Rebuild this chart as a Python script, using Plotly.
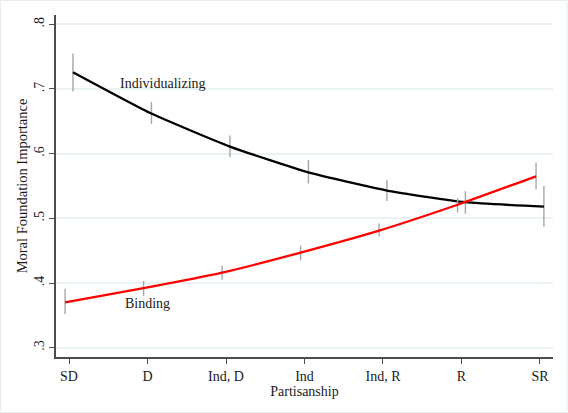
import plotly.graph_objects as go

categories = ["SD", "D", "Ind, D", "Ind", "Ind, R", "R", "SR"]

indiv_mean = [0.726, 0.662, 0.611, 0.571, 0.543, 0.525, 0.518]
indiv_hi   = [0.755, 0.680, 0.628, 0.590, 0.559, 0.542, 0.550]
indiv_lo   = [0.696, 0.646, 0.595, 0.554, 0.527, 0.507, 0.487]

bind_mean = [0.370, 0.392, 0.416, 0.447, 0.481, 0.521, 0.565]
bind_hi   = [0.391, 0.403, 0.427, 0.458, 0.492, 0.531, 0.586]
bind_lo   = [0.352, 0.380, 0.405, 0.435, 0.472, 0.509, 0.545]

y_ticks = [0.3, 0.4, 0.5, 0.6, 0.7, 0.8]
y_ticklabels = [".3", ".4", ".5", ".6", ".7", ".8"]

FONT = "Liberation Serif"
OFF = 0.05

idx = list(range(len(categories)))
x_ind = [i + OFF for i in idx]
x_bin = [i - OFF for i in idx]

def err(mean, hi, lo):
    return dict(type="data", symmetric=False,
                array=[h - m for h, m in zip(hi, mean)],
                arrayminus=[m - l for m, l in zip(mean, lo)],
                color="#a6a6a6", thickness=1.4, width=0)

fig = go.Figure()
fig.add_trace(go.Scatter(x=x_ind, y=indiv_mean, mode="lines",
                         line=dict(color="black", width=2.3, shape="spline", smoothing=0.5),
                         error_y=err(indiv_mean, indiv_hi, indiv_lo),
                         name="Individualizing", showlegend=False, hoverinfo="skip"))
fig.add_trace(go.Scatter(x=x_bin, y=bind_mean, mode="lines",
                         line=dict(color="#ff0000", width=2.3, shape="spline", smoothing=0.5),
                         error_y=err(bind_mean, bind_hi, bind_lo),
                         name="Binding", showlegend=False, hoverinfo="skip"))

fig.add_annotation(x=1.2, y=0.709, text="Individualizing", showarrow=False,
                   font=dict(family=FONT, size=14, color="#1a1a1a"))
fig.add_annotation(x=1.0, y=0.369, text="Binding", showarrow=False,
                   font=dict(family=FONT, size=14, color="#1a1a1a"))

# faint outer frame
fig.add_shape(type="rect", xref="paper", yref="paper",
              x0=-55.5/497, x1=(567-56)/497, y0=-55.5/342, y1=(357-0.5)/342,
              line=dict(color="#e8eeee", width=1), layer="below")

fig.update_layout(
    width=568, height=413,
    margin=dict(l=56, r=15, t=15, b=56),
    paper_bgcolor="white", plot_bgcolor="white",
    font=dict(family=FONT, size=13, color="#1a1a1a"),
    xaxis=dict(range=[-0.166, 6.166], tickvals=idx, ticktext=categories,
               automargin=False,
               showgrid=False, zeroline=False, showline=True,
               linecolor="#4d4d4d", linewidth=1.5,
               ticks="outside", ticklen=5, tickcolor="#4d4d4d", tickwidth=1.2,
               tickfont=dict(family=FONT, size=14),
               title=dict(text="Partisanship", font=dict(family=FONT, size=14), standoff=0)),
    yaxis=dict(range=[0.2856, 0.8144], tickvals=y_ticks, ticktext=y_ticklabels,
               tickangle=-90, automargin=False,
               showgrid=True, gridcolor="#eaf2f3", gridwidth=1.5,
               zeroline=False, showline=True,
               linecolor="#4d4d4d", linewidth=1.5,
               ticks="outside", ticklen=5, tickcolor="#4d4d4d", tickwidth=1.2,
               tickfont=dict(family=FONT, size=14),
               title=dict(text="Moral Foundation Importance", font=dict(family=FONT, size=14.5), standoff=1)),
)

fig.write_html("out.html", config={"displayModeBar": False},
               post_script="document.body.style.margin='0';document.body.style.overflow='hidden';")
